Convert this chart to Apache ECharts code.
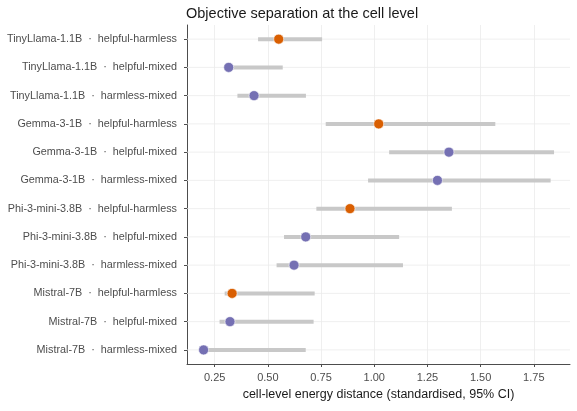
<!DOCTYPE html>
<html>
<head>
<meta charset="utf-8">
<script src="https://cdn.jsdelivr.net/npm/echarts@6/dist/echarts.min.js"></script>
<style>
html, body { margin: 0; padding: 0; background: #fff; }
#main { width: 577px; height: 411px; }
</style>
</head>
<body>
<div id="main"></div>
<script>
// rows, top to bottom
var models = ['TinyLlama-1.1B', 'TinyLlama-1.1B', 'TinyLlama-1.1B',
              'Gemma-3-1B', 'Gemma-3-1B', 'Gemma-3-1B',
              'Phi-3-mini-3.8B', 'Phi-3-mini-3.8B', 'Phi-3-mini-3.8B',
              'Mistral-7B', 'Mistral-7B', 'Mistral-7B'];
var contrasts = ['helpful-harmless', 'helpful-mixed', 'harmless-mixed',
                 'helpful-harmless', 'helpful-mixed', 'harmless-mixed',
                 'helpful-harmless', 'helpful-mixed', 'harmless-mixed',
                 'helpful-harmless', 'helpful-mixed', 'harmless-mixed'];
var estimate = [0.551, 0.316, 0.435, 1.021, 1.351, 1.297, 0.886, 0.678, 0.623, 0.332, 0.322, 0.198];
var lower    = [0.454, 0.31, 0.357, 0.772, 1.070, 0.971, 0.728, 0.576, 0.541, 0.297, 0.273, 0.19];
var upper    = [0.755, 0.570, 0.679, 1.569, 1.845, 1.829, 1.365, 1.117, 1.135, 0.720, 0.715, 0.678];
var xTicks = [0.25, 0.50, 0.75, 1.00, 1.25, 1.50, 1.75];

var labels = models.map(function (m, i) { return m + '  ·  ' + contrasts[i]; });
var colorOf = { 'helpful-harmless': '#d95f02', 'helpful-mixed': '#7570b3', 'harmless-mixed': '#7570b3' };

var ciData = labels.map(function (l, i) { return [lower[i], upper[i], l]; });
var ptData = labels.map(function (l, i) {
    return { value: [estimate[i], l], itemStyle: { color: colorOf[contrasts[i]] } };
});

var myChart = echarts.init(document.getElementById('main'));
var font = '"Liberation Sans", Arial, sans-serif';
option = {
    backgroundColor: '#ffffff',
    animation: false,
    title: {
        text: 'Objective separation at the cell level',
        left: 181,
        top: 1,
        textStyle: { fontFamily: font, fontSize: 14.5, fontWeight: 'normal', color: '#1a1a1a' }
    },
    grid: { left: 187, right: 7, top: 25, bottom: 47 },
    xAxis: {
        type: 'value',
        min: 0.12,
        max: 1.92,
        interval: 0.25,
        name: 'cell-level energy distance (standardised, 95% CI)',
        nameLocation: 'middle',
        nameGap: 24,
        nameTextStyle: { fontFamily: font, fontSize: 12.5, color: '#1a1a1a' },
        axisLine: { show: true, lineStyle: { color: '#4d4d4d', width: 1 } },
        axisTick: { show: true, length: 3, lineStyle: { color: '#4d4d4d' },
            customValues: xTicks },
        axisLabel: {
            fontFamily: font, fontSize: 11, color: '#4d4d4d', margin: 8,
            customValues: xTicks,
            formatter: function (v) { return v.toFixed(2); }
        },
        splitLine: { show: true, lineStyle: { color: '#ebebeb', width: 0.8 } }
    },
    yAxis: {
        type: 'category',
        inverse: true,
        data: labels,
        axisLine: { show: true, lineStyle: { color: '#4d4d4d', width: 1 } },
        axisTick: { show: true, alignWithLabel: true, length: 3, lineStyle: { color: '#4d4d4d' } },
        axisLabel: { fontFamily: font, fontSize: 10.8, color: '#4d4d4d', margin: 10, interval: 0 },
        splitLine: { show: false }
    },
    series: [{
        // horizontal gridlines at each category
        type: 'custom',
        silent: true,
        data: labels.map(function (l) { return [l]; }),
        encode: { y: 0 },
        renderItem: function (params, api) {
            var yv = api.value(0);
            var a = api.coord([0.12, yv]);
            var b = api.coord([1.92, yv]);
            return { type: 'line', shape: { x1: a[0], y1: a[1], x2: b[0], y2: b[1] },
                style: { stroke: '#ebebeb', lineWidth: 0.8 } };
        },
        z: 1
    }, {
        type: 'custom',
        silent: true,
        data: ciData,
        encode: { x: [0, 1], y: 2 },
        renderItem: function (params, api) {
            var a = api.coord([api.value(0), api.value(2)]);
            var b = api.coord([api.value(1), api.value(2)]);
            return { type: 'line', shape: { x1: a[0], y1: a[1], x2: b[0], y2: b[1] },
                style: { stroke: '#c8c8c8', lineWidth: 4, lineCap: 'butt' } };
        },
        z: 2
    }, {
        type: 'scatter',
        symbol: 'circle',
        symbolSize: 10,
        data: ptData,
        itemStyle: { borderColor: '#ffffff', borderWidth: 0.6, opacity: 1 },
        z: 3
    }]
};
myChart.setOption(option);
</script>
</body>
</html>
